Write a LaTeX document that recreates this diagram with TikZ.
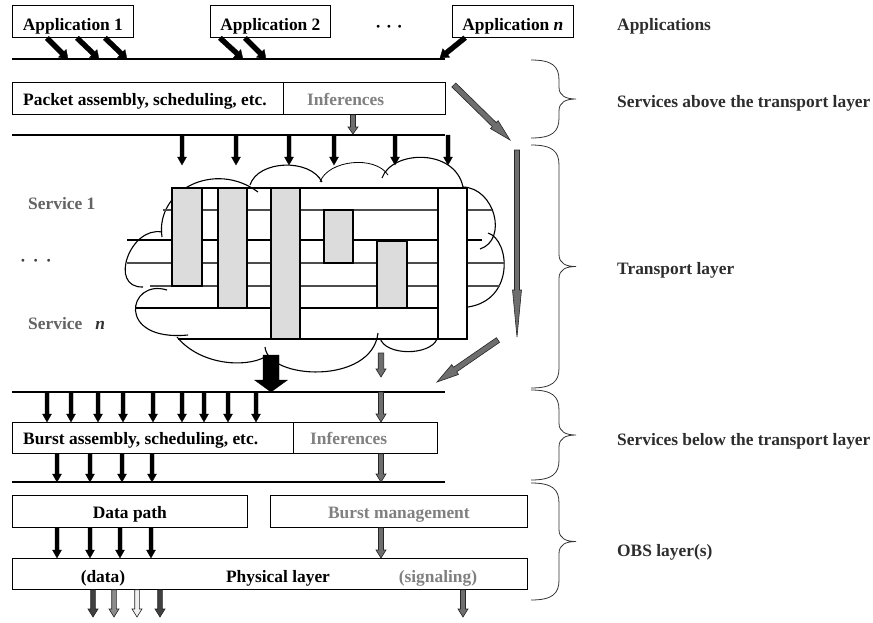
\documentclass[tikz,border=0pt]{standalone}
\usepackage{fontspec}
\setmainfont{Liberation Serif}
\usetikzlibrary{calc}

\definecolor{txtgray}{RGB}{128,128,128}
\definecolor{svcgray}{RGB}{100,100,100}
\definecolor{arrgray}{RGB}{110,110,110}
\definecolor{blockfill}{RGB}{220,220,220}
\definecolor{labelcol}{RGB}{45,45,45}

% Block arrow from #1 to #2: half shaft width #3, half head width #4, head length #5, style #6
\newcommand\blockarrow[6]{%
  \path #1 coordinate (ba-s) #2 coordinate (ba-e);
  \coordinate (ba-h) at ($(ba-e)!#5!(ba-s)$);
  \filldraw[#6] ($(ba-s)!#3!90:(ba-e)$) -- ($(ba-h)!#3!-90:(ba-s)$)
    -- ($(ba-h)!#4!-90:(ba-s)$) -- (ba-e) -- ($(ba-h)!#4!90:(ba-s)$)
    -- ($(ba-h)!#3!90:(ba-s)$) -- ($(ba-s)!#3!-90:(ba-e)$) -- cycle;
}

% Curly brace on the right, from top y #1 to bottom y #2
\newcommand\layerbrace[2]{%
  \pgfmathsetmacro\bt{#1}\pgfmathsetmacro\bb{#2}\pgfmathsetmacro\bm{(#1+#2)/2}%
  \draw[bracestyle] (531,\bt) .. controls (552,\bt) and (559,\bt+6) .. (559,\bt+20)
    -- (559,\bm-12) .. controls (559,\bm-3) and (566,\bm) .. (576,\bm)
    .. controls (566,\bm) and (559,\bm+3) .. (559,\bm+12)
    -- (559,\bb-20) .. controls (559,\bb-6) and (552,\bb) .. (531,\bb);
}

\begin{document}
\begin{tikzpicture}[x=1pt,y=-1pt,
  every node/.style={font=\fontsize{17.4}{20}\selectfont\bfseries, inner sep=0pt,
                     text height=15.5pt, text depth=1.5pt},
  box/.style={draw=black, line width=0.8pt, fill=white, anchor=north west},
  appbox/.style={box, minimum height=32pt, text height=21pt, text depth=3pt},
  hline/.style={line width=1.4pt},
  gline/.style={line width=1.3pt, draw=black!70},
  cloudarc/.style={line width=1.1pt},
  cell/.style={draw=black, line width=1.1pt, fill=blockfill},
  blk/.style={fill=black, draw=black, line width=0.3pt},
  garr/.style={fill=arrgray, draw=black!85, line width=0.6pt},
  gtxt/.style={text=txtgray},
  lbl/.style={text=labelcol, anchor=west},
  bracestyle/.style={line width=0.8pt, draw=black!80}
]
\useasboundingbox (0,0) rectangle (873,622);

% ---------- applications ----------
\node[appbox, minimum width=121pt] (app1) at (12,5) {Application 1};
\node[appbox, minimum width=120pt] (app2) at (210,5) {Application 2};
\node (dots) at (389,25) {·\hspace{5pt}·\hspace{5pt}·};
\node[appbox, minimum width=121pt] (appn) at (452,5) {Application \textit{n}};
\node[lbl] (lapps) at (617,23) {Applications};

\draw[hline] (12,59) coordinate (L1w) -- (445,59) coordinate (L1e);
\foreach \a/\b in {47/68, 77/99, 105/127, 220/243, 245/266}
  {\blockarrow{(\a,38)}{(\b,0 |- L1w)}{2.5pt}{5.5pt}{8pt}{blk}}
\blockarrow{(465,0 |- appn.south)}{(440,58)}{2.5pt}{5.5pt}{8pt}{blk}

% ---------- services above the transport layer ----------
\node[box, minimum width=271pt, minimum height=32pt] (pkt) at (12,82) {};
\node[box, minimum width=162pt, minimum height=32pt] (pinf) at (283,82) {};
\node[anchor=west] (pkttxt) at ($(pkt.west)+(11,0)$) {Packet assembly, scheduling, etc.};
\node[anchor=west, gtxt] (pinftxt) at ($(pinf.west)+(24,0)$) {Inferences};
\draw[hline] (12,135) coordinate (L2w) -- (445,135) coordinate (L2e);
\blockarrow{(353,0 |- pinf.south)}{(353,134)}{2.5pt}{5pt}{7pt}{garr}
\foreach \x in {182,236,289,334,395,448}
  {\blockarrow{(\x,0 |- L2w)}{(\x,165)}{2pt}{4.5pt}{8pt}{blk}}

% ---------- transport layer: cloud of services ----------
\draw[cloudarc] (162,237) .. controls (155,190) and (215,160) .. (258,192);
\draw[cloudarc] (250,185) .. controls (258,160) and (310,158) .. (322,182);
\draw[cloudarc, line width=0.8pt] (320,182) .. controls (328,160) and (375,155) .. (388,175);
\draw[cloudarc] (382,178) .. controls (392,150) and (455,148) .. (463,187);
\draw[cloudarc] (463,187) .. controls (495,188) and (508,240) .. (480,249);
\draw[cloudarc] (488,233) .. controls (510,240) and (515,300) .. (468,307);
\draw[cloudarc] (380,338) .. controls (385,356) and (430,356) .. (437,339);
\draw[cloudarc] (378,333) .. controls (372,385) and (268,380) .. (265,347);
\draw[cloudarc] (177,337) .. controls (200,365) and (245,368) .. (265,357);
\draw[cloudarc] (167,290) .. controls (128,278) and (115,342) .. (188,335);
\draw[cloudarc] (162,232) .. controls (130,226) and (108,288) .. (143,287);

\draw[hline] (172,188) -- (467,188);
\draw[gline] (163,210) -- (492,210);
\draw[hline] (127,240) -- (482,240);
\draw[gline] (127,263) -- (505,263);
\draw[gline] (150,286) -- (500,286);
\draw[hline] (135,308) -- (437,308);
\draw[hline] (178,339) -- (467,339);

\draw[cell] (172,188) rectangle (202,286);
\draw[cell] (218,188) rectangle (247,308);
\draw[cell] (271,188) rectangle (300,339);
\draw[cell] (324,210) rectangle (353,263);
\draw[cell] (377,241) rectangle (407,308);
\draw[cell, fill=white] (438,188) rectangle (467,339);

\node[anchor=west, text=svcgray] (svc1) at (28,202) {Service 1};
\node[anchor=west, text=black!75] (svcdots) at (20,259) {·\hspace{7pt}·\hspace{7pt}·};
\node[anchor=west, text=svcgray] (svcn) at (28,322) {Service\ \ \ {\color{black!80}\textit{n}}};

% ---------- arrows leaving the transport layer ----------
\draw[hline] (12,392) coordinate (L3w) -- (445,392) coordinate (L3e);
\blockarrow{(271,355)}{(271,0 |- L3w)}{8pt}{16.5pt}{12pt}{blk}
\blockarrow{(381,353)}{(381,377)}{2.8pt}{5pt}{8pt}{garr}

\blockarrow{([shift={(8,3)}]pinf.north east)}{(510,140)}{2.8pt}{5.5pt}{22pt}{garr}
\blockarrow{(517,150)}{(517,337)}{2.5pt}{4.5pt}{47pt}{garr}
\blockarrow{(498,340)}{([shift={(-8,-10)}]L3e)}{2.8pt}{6pt}{22pt}{garr}

% ---------- services below the transport layer ----------
\node[box, minimum width=281pt, minimum height=31pt] (bst) at (12,422) {};
\node[box, minimum width=144pt, minimum height=31pt] (binf) at (293,422) {};
\node[anchor=west] (bsttxt) at ($(bst.west)+(11,0)$) {Burst assembly, scheduling, etc.};
\node[anchor=west, gtxt] (binftxt) at ($(binf.west)+(17,0)$) {Inferences};
\foreach \x in {47,71,98,123,153,182,204,228,256}
  {\blockarrow{(\x,0 |- L3w)}{(\x,0 |- bst.north)}{2pt}{4.5pt}{8pt}{blk}}
\blockarrow{(381,0 |- L3w)}{(381,0 |- binf.north)}{2.5pt}{5pt}{8pt}{garr}

\draw[hline] (12,482) coordinate (L4w) -- (445,482) coordinate (L4e);
\foreach \x in {57,90,122,152}
  {\blockarrow{(\x,0 |- bst.south)}{(\x,0 |- L4w)}{2pt}{4.5pt}{8pt}{blk}}
\blockarrow{(381,0 |- binf.south)}{(381,0 |- L4w)}{2.5pt}{5pt}{8pt}{garr}

% ---------- OBS layer(s) ----------
\node[box, minimum width=235pt, minimum height=32pt] (dpath) at (12,495) {Data path};
\node[box, minimum width=257pt, minimum height=32pt, gtxt] (bmgmt) at (270,495) {Burst management};
\node[box, minimum width=515pt, minimum height=31pt] (phys) at (12,558) {};
\node (pdata) at (103,575) {(data)};
\node (ptitle) at (278,575) {Physical layer};
\node[gtxt] (psig) at (438,575) {(signaling)};

\foreach \x in {57,90,120,151}
  {\blockarrow{(\x,0 |- dpath.south)}{(\x,0 |- phys.north)}{2pt}{4.5pt}{8pt}{blk}}
\blockarrow{(381,0 |- bmgmt.south)}{(381,0 |- phys.north)}{2.5pt}{5pt}{8pt}{garr}

\foreach \x/\c in {93/black!75, 114/black!45, 137/black!6, 160/black!75}
  {\blockarrow{(\x,0 |- phys.south)}{(\x,617)}{2.3pt}{5pt}{8pt}{fill=\c, draw=black!85, line width=0.6pt}}
\blockarrow{(463,0 |- phys.south)}{(463,617)}{2.5pt}{5pt}{8pt}{garr}

% ---------- layer braces and names ----------
\layerbrace{60}{138}
\layerbrace{145}{388}
\layerbrace{390}{480}
\layerbrace{483}{600}
\node[lbl] (labove) at (617,100) {Services above the transport layer};
\node[lbl] (ltrans) at (617,267) {Transport layer};
\node[lbl] (lbelow) at (617,438) {Services below the transport layer};
\node[lbl] (lobs) at (617,549) {OBS layer(s)};
\end{tikzpicture}
\end{document}
